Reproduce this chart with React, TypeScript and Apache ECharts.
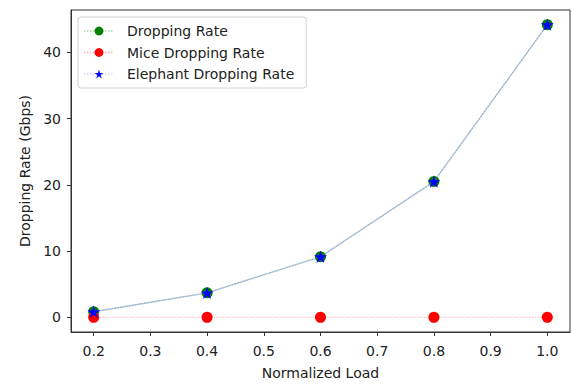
import React, { useEffect, useRef } from "react";
import * as echarts from "echarts";

const loads = [0.2, 0.4, 0.6, 0.8, 1.0];
const totalDrop = [0.85, 3.7, 9.15, 20.5, 44.2];
const miceDrop = [0, 0, 0, 0, 0];
const elephantDrop = [0.85, 3.7, 9.15, 20.5, 44.2];
const xTicks = [0.2, 0.3, 0.4, 0.5, 0.6, 0.7, 0.8, 0.9, 1.0];
const yTicks = [0, 10, 20, 30, 40];

const STAR =
  "path://M50 0 L61.23 34.55 L97.55 34.55 L68.17 55.9 L79.39 90.45 L50 69.1 L20.61 90.45 L31.83 55.9 L2.45 34.55 L38.77 34.55 Z";

const FONT = "DejaVu Sans";

export default function App() {
  const ref = useRef<HTMLDivElement>(null);
  useEffect(() => {
    const chart = echarts.init(ref.current!, null, { renderer: "svg" });
    const pairs = (ys: number[]) => loads.map((x, i) => [x, ys[i]]);
    chart.setOption({
      animation: false,
      backgroundColor: "#fff",
      textStyle: { fontFamily: FONT },
      grid: {
        left: 71,
        top: 10,
        right: 1,
        bottom: 50,
        show: true,
        borderColor: "#333",
        borderWidth: 1,
        backgroundColor: "transparent",
      },
      legend: {
        orient: "vertical",
        left: 78,
        top: 17,
        padding: [7, 12, 7, 5],
        itemGap: 7.5,
        itemWidth: 30,
        itemHeight: 11,
        borderColor: "#d0d0d0",
        borderWidth: 1,
        borderRadius: 3,
        textStyle: {
          fontFamily: FONT,
          fontSize: 14,
          color: "#222",
          padding: [0, 0, 0, 8],
        },
        data: [
          "Dropping Rate",
          "Mice Dropping Rate",
          {
            name: "Elephant Dropping Rate",
            lineStyle: { color: "blue", type: [1.5, 1.5], opacity: 0.25, width: 1.2 },
          },
        ],
      },
      xAxis: {
        type: "value",
        min: 0.16,
        max: 1.04,
        name: "Normalized Load",
        nameLocation: "middle",
        nameGap: 34,
        nameTextStyle: { fontFamily: FONT, fontSize: 14, color: "#222" },
        axisLine: { show: true, onZero: false, lineStyle: { color: "#333" } },
        axisTick: {
          show: true,
          length: 4,
          customValues: xTicks,
          lineStyle: { color: "#333" },
        },
        axisLabel: {
          customValues: xTicks,
          formatter: (v: number) => v.toFixed(1),
          fontFamily: FONT,
          fontSize: 14,
          color: "#222",
          margin: 12,
        },
        splitLine: { show: false },
      },
      yAxis: {
        type: "value",
        min: -2.21,
        max: 46.41,
        name: "Dropping Rate (Gbps)",
        nameLocation: "middle",
        nameGap: 37,
        nameTextStyle: { fontFamily: FONT, fontSize: 14, color: "#222" },
        axisLine: { show: true, onZero: false, lineStyle: { color: "#333" } },
        axisTick: {
          show: true,
          length: 4,
          customValues: yTicks,
          lineStyle: { color: "#333" },
        },
        axisLabel: {
          customValues: yTicks,
          fontFamily: FONT,
          fontSize: 14,
          color: "#222",
          margin: 10,
        },
        splitLine: { show: false },
      },
      series: [
        {
          name: "Dropping Rate",
          type: "line",
          data: pairs(totalDrop),
          symbol: "circle",
          symbolSize: 11,
          itemStyle: { color: "green" },
          lineStyle: { color: "green", width: 1.2, type: [1.5, 1.5], opacity: 0.25 },
          z: 2,
        },
        {
          name: "Mice Dropping Rate",
          type: "line",
          data: pairs(miceDrop),
          symbol: "circle",
          symbolSize: 11,
          itemStyle: { color: "red" },
          lineStyle: { color: "red", width: 1.2, type: [1.5, 1.5], opacity: 0.25 },
          z: 3,
        },
        {
          name: "Elephant Dropping Rate",
          type: "line",
          data: pairs(elephantDrop),
          symbol: STAR,
          symbolSize: 13,
          symbolKeepAspect: true,
          itemStyle: { color: "blue" },
          lineStyle: { color: "#4a6fc0", width: 1.3, type: "solid", opacity: 0.4 },
          z: 4,
        },
      ],
    });
    return () => chart.dispose();
  }, []);
  return (
    <div
      ref={ref}
      style={{ position: "absolute", left: 0, top: 0, width: 571, height: 385 }}
    />
  );
}
